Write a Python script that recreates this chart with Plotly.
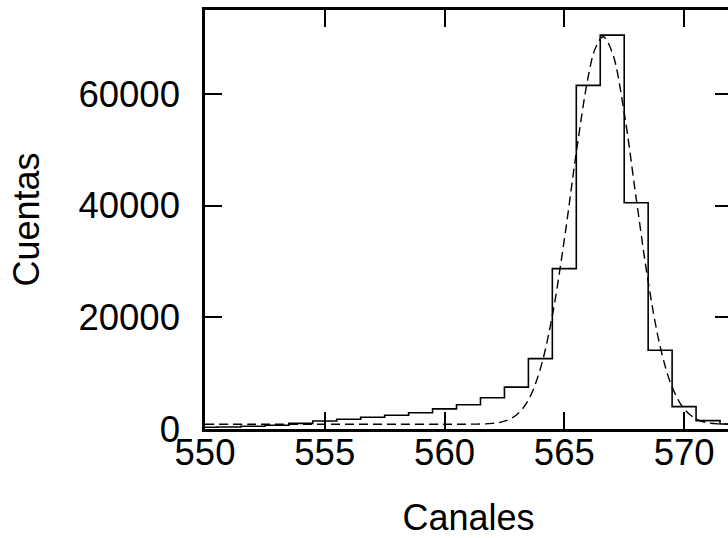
import plotly.graph_objects as go

# Histogram (channel centres, counts)
channels = [550, 551, 552, 553, 554, 555, 556, 557, 558, 559, 560, 561,
            562, 563, 564, 565, 566, 567, 568, 569, 570, 571, 572]
counts = [300, 350, 480, 680, 1000, 1430, 1750, 2100, 2450, 2900, 3600, 4350,
          5600, 7500, 12600, 28700, 61500, 70500, 40500, 14100, 4000, 1500, 900]

# Fitted curve (dashed)
fit_x = [550, 552, 554, 556, 558, 560, 561, 562, 562.5, 563, 563.5, 564, 564.5,
         565, 565.5, 566, 566.3, 566.62, 567, 567.5, 568, 568.5, 569, 569.5,
         570, 570.5, 571, 571.5, 572]
fit_y = [850, 850, 850, 850, 850, 850, 860, 1000, 1400, 2500, 5200, 10800, 20300,
         33900, 49500, 63100, 68200, 70200, 67400, 56600, 41300, 26400, 14800, 7500,
         3600, 1800, 1100, 900, 850]

x_ticks = [550, 555, 560, 565, 570]
y_ticks = [0, 20000, 40000, 60000]

FONT = "Liberation Sans, Arial, Helvetica, sans-serif"

fig = go.Figure()
fig.add_trace(go.Scatter(x=channels, y=counts, mode="lines", line_shape="hvh",
                         line=dict(color="black", width=1.6), showlegend=False))
fig.add_trace(go.Scatter(x=fit_x, y=fit_y, mode="lines", line_shape="spline",
                         line=dict(color="black", width=1.4, dash="9px,5px"),
                         showlegend=False))

axis_common = dict(showline=True, linecolor="black", linewidth=2.5, mirror="ticks",
                   ticks="inside", ticklen=17, tickwidth=2, tickcolor="black",
                   showgrid=False, zeroline=False,
                   tickfont=dict(family=FONT, size=36.5, color="black"))

fig.update_xaxes(range=[550, 572], tickvals=x_ticks, ticklabelstandoff=-11,
                 title=dict(text="Canales", font=dict(family=FONT, size=36, color="black"),
                            standoff=40),
                 **axis_common)
fig.update_yaxes(range=[0, 75000], tickvals=y_ticks, tickformat="d", ticklabelstandoff=15,
                 title=dict(text="Cuentas", font=dict(family=FONT, size=36, color="black"),
                            standoff=28),
                 **axis_common)

fig.update_layout(width=735, height=538,
                  margin=dict(l=205, r=0, t=10, b=109, pad=0),
                  plot_bgcolor="white", paper_bgcolor="white")

fig.write_html("out.html",
               post_script="document.documentElement.style.overflow='hidden';document.body.style.overflow='hidden';document.body.style.margin='0';")
